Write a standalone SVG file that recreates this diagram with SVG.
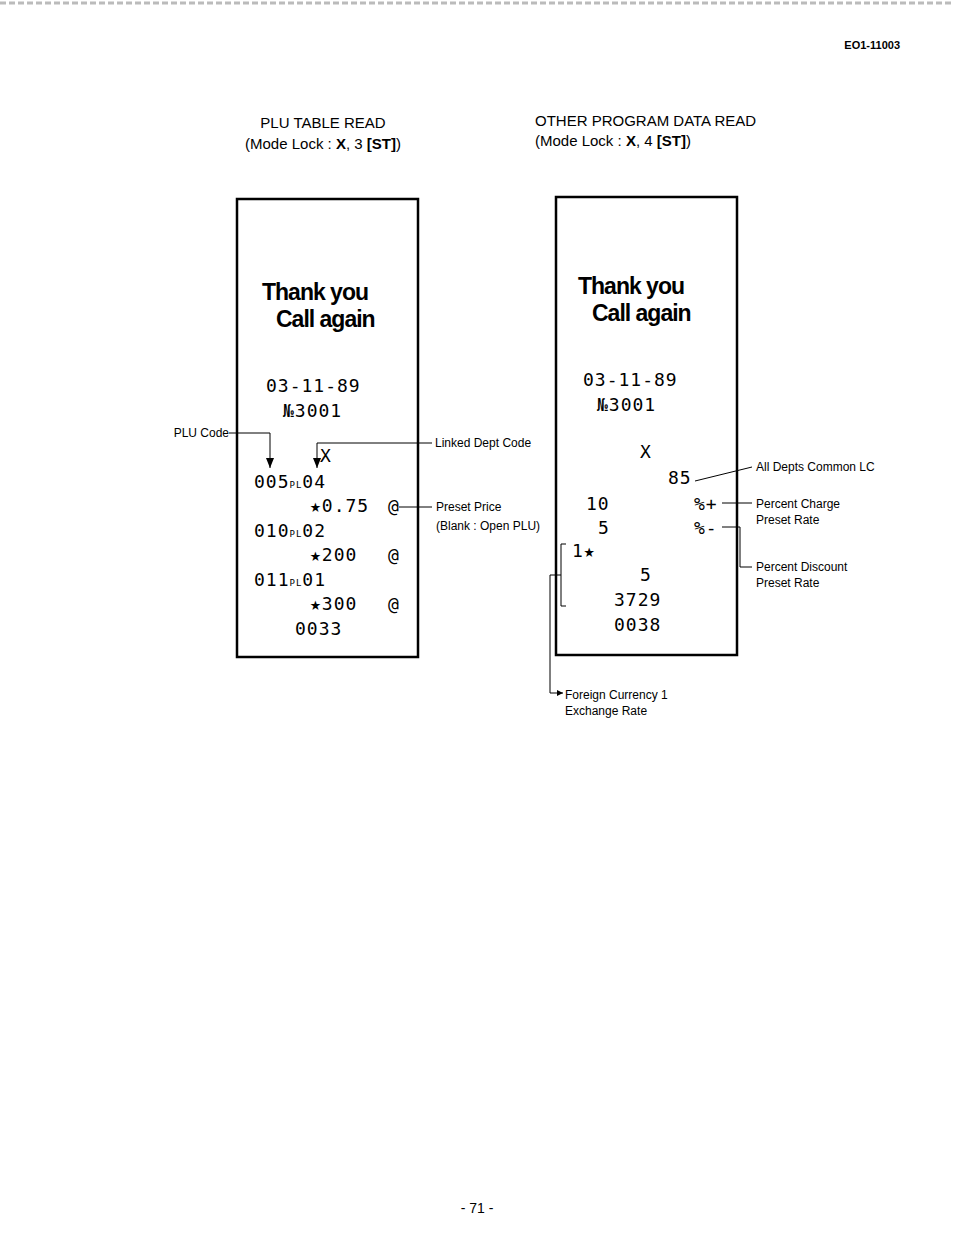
<svg xmlns="http://www.w3.org/2000/svg" width="954" height="1239" viewBox="0 0 954 1239">
<defs>
<marker id="ah" markerWidth="10" markerHeight="8" refX="10" refY="4" orient="auto" markerUnits="userSpaceOnUse"><path d="M0,0 L10,4 L0,8 Z" fill="#000"/></marker>
<marker id="sa" markerWidth="6" markerHeight="6" refX="6" refY="3" orient="auto" markerUnits="userSpaceOnUse"><path d="M0,0 L6,3 L0,6 Z" fill="#000"/></marker>
</defs>
<style>
text{font-family:"Liberation Sans",Arial,sans-serif;fill:#000}
.h{font-size:15px}
.lb{font-size:12px}
.r{font-family:"DejaVu Sans Mono","Liberation Mono",monospace;font-size:18px;letter-spacing:1px}
.t{font-family:"Liberation Sans",sans-serif;font-weight:bold;font-size:23px;letter-spacing:-1px}
.pl{font-size:9px}
.box{fill:#fff;stroke:#000;stroke-width:2.5}
.c{fill:none;stroke:#000;stroke-width:1}
</style>
<rect width="954" height="1239" fill="#fff"/>
<line x1="0" y1="3" x2="954" y2="3" stroke="#bbb" stroke-width="3" stroke-dasharray="6 3"/>
<text x="900" y="49" font-size="11" font-weight="bold" text-anchor="end">EO1-11003</text>
<text class="h" x="323" y="128" text-anchor="middle">PLU TABLE READ</text>
<text class="h" x="323" y="149" text-anchor="middle">(Mode Lock : <tspan font-weight="bold">X</tspan>, 3 <tspan font-weight="bold">[ST]</tspan>)</text>
<text class="h" x="535" y="126">OTHER PROGRAM DATA READ</text>
<text class="h" x="535" y="146">(Mode Lock : <tspan font-weight="bold">X</tspan>, 4 <tspan font-weight="bold">[ST]</tspan>)</text>
<g id="receipt-left">
<rect class="box" x="237" y="199" width="181" height="458"/>
<text class="t" x="262" y="300">Thank you</text>
<text class="t" x="276" y="327">Call again</text>
<text class="r" x="266" y="392">03-11-89</text>
<text class="r" x="283" y="417">№3001</text>
<text class="r" x="320" y="462">X</text>
<text class="r" x="254" y="488">005<tspan class="pl">PL</tspan>04</text>
<text class="r" x="310" y="512">★0.75</text>
<text class="r" x="388" y="512">@</text>
<text class="r" x="254" y="537">010<tspan class="pl">PL</tspan>02</text>
<text class="r" x="310" y="561">★200</text>
<text class="r" x="388" y="561">@</text>
<text class="r" x="254" y="586">011<tspan class="pl">PL</tspan>01</text>
<text class="r" x="310" y="610">★300</text>
<text class="r" x="388" y="610">@</text>
<text class="r" x="295" y="635">0033</text>
</g>
<g id="receipt-right">
<rect class="box" x="556" y="197" width="181" height="458"/>
<text class="t" x="578" y="294">Thank you</text>
<text class="t" x="592" y="321">Call again</text>
<text class="r" x="583" y="386">03-11-89</text>
<text class="r" x="597" y="411">№3001</text>
<text class="r" x="640" y="458">X</text>
<text class="r" x="668" y="484">85</text>
<text class="r" x="586" y="510">10</text>
<text class="r" x="694" y="510">%+</text>
<text class="r" x="598" y="534">5</text>
<text class="r" x="694" y="534">%-</text>
<text class="r" x="572" y="557">1★</text>
<text class="r" x="640" y="581">5</text>
<text class="r" x="614" y="606">3729</text>
<text class="r" x="614" y="631">0038</text>
</g>
<g id="labels">
<text class="lb" x="229" y="437" text-anchor="end">PLU Code</text>
<text class="lb" x="435" y="447">Linked Dept Code</text>
<text class="lb" x="436" y="511">Preset Price</text>
<text class="lb" x="436" y="530">(Blank : Open PLU)</text>
<text class="lb" x="756" y="471">All Depts Common LC</text>
<text class="lb" x="756" y="508">Percent Charge</text>
<text class="lb" x="756" y="524">Preset Rate</text>
<text class="lb" x="756" y="571">Percent Discount</text>
<text class="lb" x="756" y="587">Preset Rate</text>
<text class="lb" x="565" y="699">Foreign Currency 1</text>
<text class="lb" x="565" y="715">Exchange Rate</text>
</g>
<g id="connectors">
<polyline class="c" points="229,433 270,433 270,468" marker-end="url(#ah)"/>
<polyline class="c" points="432,443 317,443 317,468" marker-end="url(#ah)"/>
<line class="c" x1="399" y1="507" x2="432" y2="507"/>
<line class="c" x1="695" y1="481" x2="752" y2="467"/>
<line class="c" x1="722" y1="503" x2="752" y2="503"/>
<polyline class="c" points="722,527 740,527 740,567 752,567"/>
<polyline class="c" points="566,544 561,544 561,606 566,606"/>
<polyline class="c" points="561,575 550,575 550,693 563,693" marker-end="url(#sa)"/>
</g>
<text x="477" y="1213" font-size="14" text-anchor="middle">- 71 -</text>
</svg>
